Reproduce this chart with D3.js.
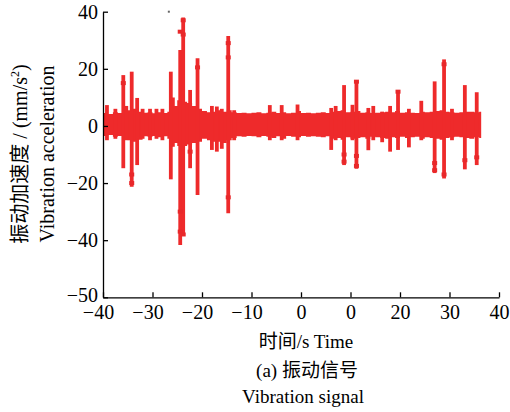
<!DOCTYPE html>
<html>
  <head>
    <meta charset="utf-8" />
    <title>D3 - vibration signal</title>
    <script src="https://d3js.org/d3.v7.min.js"></script>
    <style>
      body { margin: 0; background: #fff; }
      text { font-family: "Liberation Serif", "Noto Sans CJK SC", serif; fill: #000; }
    </style>
  </head>

  <body>
    <svg width="510" height="412"></svg>

    <script type="text/javascript">
      // tick values and the labels printed on them (as in the source figure)
      var xTickValues = [-40, -30, -20, -10, 0, 10, 20, 30, 40];
      var xTickLabels = ["−40", "−30", "−20", "−10", "0", "0", "20", "30", "40"];
      var yTickValues = [-60, -40, -20, 0, 20, 40];
      var yTickLabels = ["−50", "−40", "−20", "0", "20", "40"];

      // envelope of the dense noise band (time s, upper, lower)
      var bandT = [-39.8, -39, -38, -37, -36, -35, -34, -33, -32, -31, -30, -29, -28, -27, -26.6, -26, -25.5, -25, -24, -23, -22, -21, -20, -19, -18, -17, -16, -15, -14, -13, -12, -11, -10, -9, -8, -7, -6, -5, -4, -3, -2, -1, 0, 1, 2, 3, 4, 5, 6, 7, 8, 9, 10, 11, 12, 13, 14, 15, 16, 17, 18, 19, 20, 21, 22, 23, 24, 25, 26, 27, 28, 29, 30, 31, 32, 33, 34, 35, 36, 36.4];
      var bandHi = [4.5, 4.2, 4.8, 4.5, 5.5, 5.5, 6, 5, 4.6, 4.8, 4.4, 4.8, 4.5, 5, 10, 10, 7, 9, 8.5, 8, 7, 6, 5.2, 4.8, 5, 5.5, 5, 5.5, 4.8, 4.5, 4.6, 4.4, 4.6, 4.8, 4.4, 4.6, 5, 4.5, 4.8, 4.4, 4.6, 5.2, 4.5, 4.6, 4.4, 4.6, 4.8, 4.5, 5, 5.2, 5.5, 4.8, 5, 5.2, 4.6, 4.8, 4.5, 4.6, 4.8, 5, 4.8, 5.2, 4.6, 4.8, 4.6, 4.5, 5, 4.8, 5, 5.2, 5.5, 5, 4.8, 4.6, 4.8, 5, 5, 4.8, 5, 4.8];
      var bandLo = [-3.5, -3.2, -3.8, -3.5, -4.5, -5, -5.5, -4.8, -3.6, -3.8, -3.5, -4, -3.6, -4.5, -7.5, -7.3, -6, -7, -7, -6.5, -6, -5.5, -4.5, -5, -5.5, -5.5, -6, -5, -4.2, -3.6, -3.8, -3.5, -3.6, -4, -3.5, -3.8, -4.2, -3.6, -4.5, -3.5, -3.8, -4, -3.5, -3.8, -3.6, -3.8, -4, -3.6, -4.5, -4.2, -4.8, -4, -4.5, -4.2, -4, -4.5, -3.8, -4, -4.2, -4.5, -4, -4.2, -3.8, -4.2, -4, -3.8, -4.5, -4, -4.2, -4.5, -4.8, -4.2, -4, -3.8, -4, -4.2, -4.5, -4, -4.2, -4];

      // individual bursts (time s, peak up, peak down)
      var spikeT = [-39.2, -37.5, -35.9, -35.3, -34.2, -33.1, -32, -30.5, -29.2, -28, -26.3, -24.4, -23.8, -22.4, -20.9, -18, -17, -16, -14.7, -13.5, -6.3, -3.9, -0.7, 6.1, 7, 8.7, 10.4, 11.2, 13.6, 14.6, 16.4, 18, 19.6, 21.8, 24.3, 27, 28.9, 30.5, 33.1, 35.5];
      var spikeHi = [7.3, 6, 17.8, 7, 19, 9.8, 6, 6, 6, 6, 19, 26.6, 38, 12.6, 23.7, 7, 6.8, 6, 31.5, 5.5, 7.3, 7.3, 7.5, 6.3, 7, 14.3, 7.4, 15.6, 6.3, 7, 5, 7, 12, 6, 8.8, 15.6, 23.3, 6, 14.3, 11.8];
      var spikeLo = [-5, -4.5, -14.8, -5, -21.3, -13.7, -4.5, -5, -4.5, -5, -18.7, -41.7, -38.2, -14.8, -24.2, -8.4, -9, -8, -30.6, -5, -5, -5, -5, -8.4, -5, -13.7, -5, -15, -8.5, -5, -5.7, -9, -8.4, -7.5, -5, -16.5, -18.4, -5, -15.2, -13.7];

      // small plot markers along the bursts
      var markT = [-35.9, -34.2, -34.2, -24.4, -24.4, -24.4, -23.8, -23.8, -23.8, -22.4, -20.9, -14.7, -14.7, -14.7, 8.7, 8.7, 11.2, 11.2, 11.2, 19.6, 27, 27, 28.9, 28.9, 33.1, 35.5];
      var markV = [15, -17, -20, 33, -30, -37, 32, 37, -38, -9, 20.5, 29, 24, -25, -10, -12.5, 15.5, -10.5, -14, 12, -13, -15.5, 21.6, -17, -12, -11];

      // stray sample near the top of the frame
      var strayT = [-26.7];
      var strayV = [40];

      var red = "#ee2a2b";
      var svg = d3.select("svg");

      var x = d3.scaleLinear().domain([-40, 40]).range([103, 499]);
      var y = d3.scaleLinear().domain([-60, 40]).range([297.3, 11.7]);

      // noise band
      var band = bandT.map(function (t, i) {
        return { t: t, hi: bandHi[i], lo: bandLo[i] };
      });
      var area = d3
        .area()
        .curve(d3.curveStepAfter)
        .x(function (d) { return x(d.t); })
        .y0(function (d) { return y(d.lo); })
        .y1(function (d) { return y(d.hi); });

      var signal = svg.append("g").attr("id", "signal");
      signal.append("path").datum(band).attr("d", area).style("fill", red);

      // bursts
      var spikes = spikeT.map(function (t, i) {
        return { t: t, hi: spikeHi[i], lo: spikeLo[i] };
      });
      signal
        .selectAll("line.spike")
        .data(spikes)
        .enter()
        .append("line")
        .attr("class", "spike")
        .attr("x1", function (d) { return x(d.t); })
        .attr("x2", function (d) { return x(d.t); })
        .attr("y1", function (d) { return y(d.hi); })
        .attr("y2", function (d) { return y(d.lo); })
        .style("stroke", red)
        .style("stroke-width", 3.8);

      // markers
      var marks = markT.map(function (t, i) {
        return { t: t, v: markV[i] };
      });
      signal
        .selectAll("rect.mark")
        .data(marks)
        .enter()
        .append("rect")
        .attr("class", "mark")
        .attr("x", function (d) { return x(d.t) - 2.5; })
        .attr("y", function (d) { return y(d.v) - 2; })
        .attr("width", 5)
        .attr("height", 4)
        .style("fill", "#e8282a");

      signal
        .selectAll("rect.stray")
        .data(strayT)
        .enter()
        .append("rect")
        .attr("class", "stray")
        .attr("x", function (d) { return x(d) - 1; })
        .attr("y", function (d, i) { return y(strayV[i]) - 1; })
        .attr("width", 2)
        .attr("height", 2)
        .style("fill", "#666");

      // axes
      var xAxis = d3
        .axisBottom(x)
        .tickValues(xTickValues)
        .tickFormat(function (d, i) { return xTickLabels[i]; })
        .tickSizeInner(-5)
        .tickSizeOuter(0)
        .tickPadding(8);
      var gx = svg
        .append("g")
        .attr("transform", "translate(0," + y(-60) + ")")
        .call(xAxis);
      gx.selectAll("text")
        .style("font-size", "20px")
        .attr("dx", function (d, i) { return xTickLabels[i].charAt(0) === "−" ? -5 : 0; });

      var yAxis = d3
        .axisLeft(y)
        .tickValues(yTickValues)
        .tickFormat(function (d, i) { return yTickLabels[i]; })
        .tickSizeInner(-5)
        .tickSizeOuter(0)
        .tickPadding(5);
      var gy = svg
        .append("g")
        .attr("transform", "translate(" + x(-40) + ",0)")
        .call(yAxis);
      gy.selectAll("text")
        .style("font-size", "20px")
        .attr("dy", function (d) { return d === -60 ? "0.2em" : "0.32em"; });

      svg.selectAll(".domain, .tick line").style("stroke", "#000").style("stroke-width", 1.3);

      // titles
      var yTitle = svg.append("g").attr("transform", "translate(0,154) rotate(-90)");
      var t1 = yTitle
        .append("text")
        .attr("x", 0)
        .attr("y", 27)
        .attr("text-anchor", "middle")
        .style("font-size", "20px");
      t1.append("tspan").text("振动加速度 / (mm/s");
      t1.append("tspan").attr("dy", -8).style("font-size", "12px").text("2");
      t1.append("tspan").attr("dy", 8).text(")");
      yTitle
        .append("text")
        .attr("x", 0)
        .attr("y", 54)
        .attr("text-anchor", "middle")
        .style("font-size", "20px")
        .text("Vibration acceleration");

      svg.append("text").attr("x", 306).attr("y", 348).attr("text-anchor", "middle")
        .style("font-size", "19px").text("时间/s Time");
      svg.append("text").attr("x", 307).attr("y", 377).attr("text-anchor", "middle")
        .style("font-size", "19px").text("(a) 振动信号");
      svg.append("text").attr("x", 303).attr("y", 403).attr("text-anchor", "middle")
        .style("font-size", "19px").text("Vibration signal");
    </script>
  </body>
</html>
